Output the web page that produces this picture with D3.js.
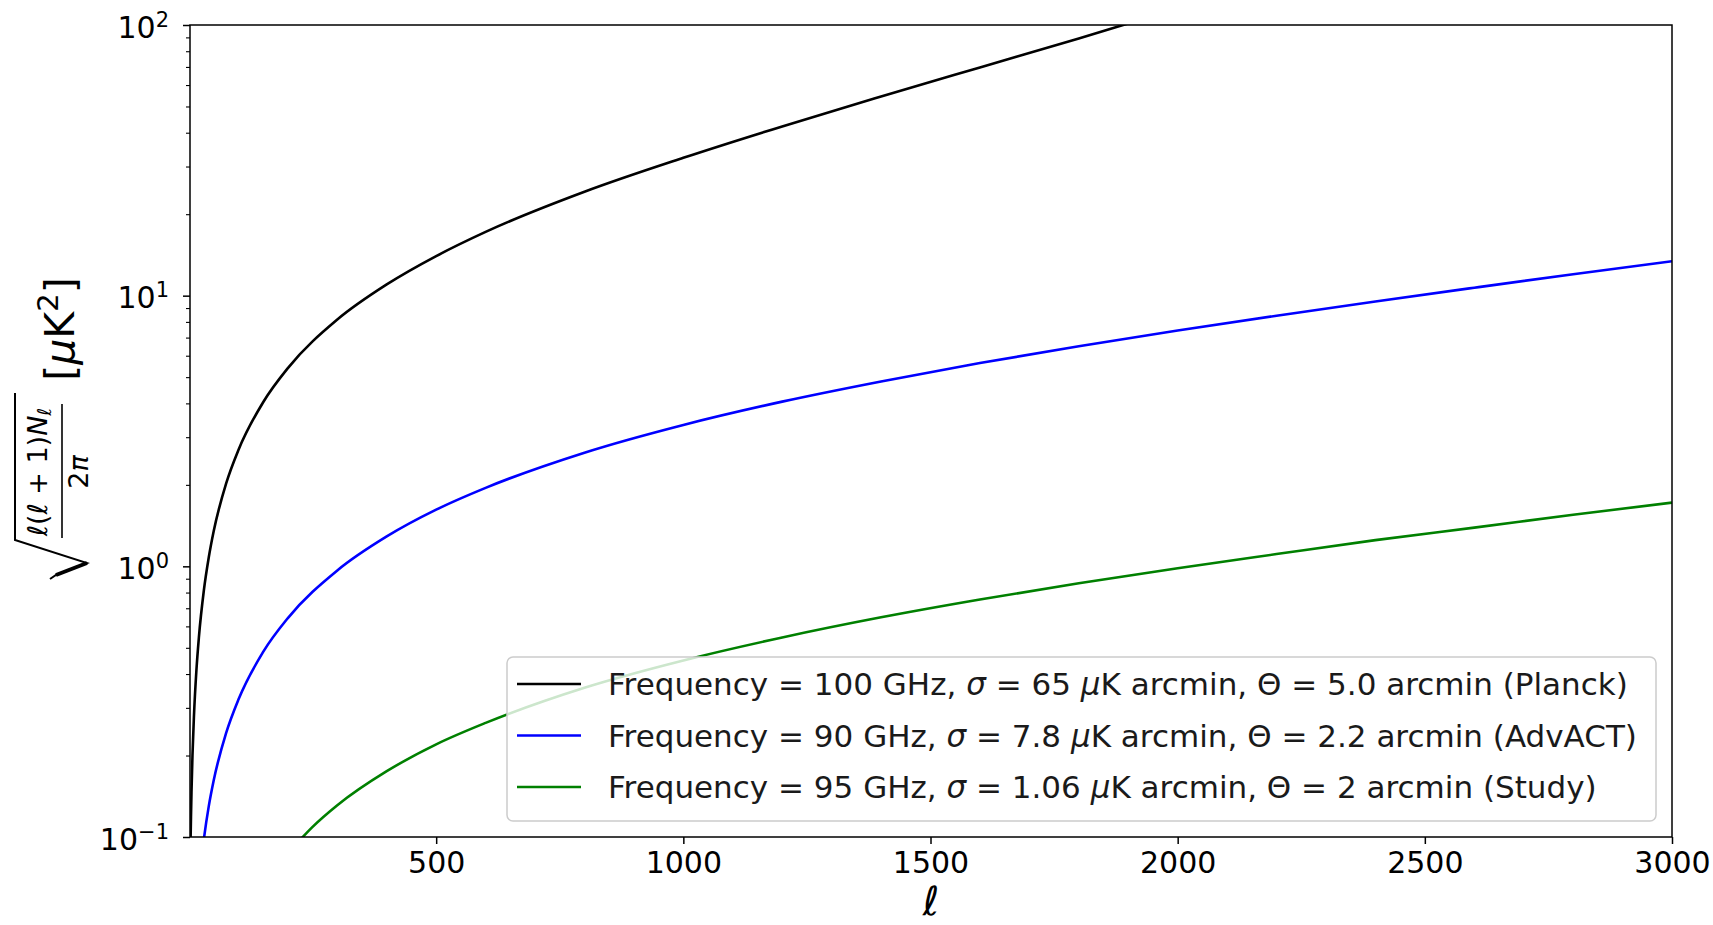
<!DOCTYPE html>
<html>
<head>
<meta charset="utf-8">
<script src="https://cdn.jsdelivr.net/npm/d3@7"></script>
<style>
  body { margin: 0; background: #fff; }
  svg { display: block; font-family: "DejaVu Sans", sans-serif; }
</style>
</head>
<body>
<div id="chart"></div>
<script>
// values (multipole ℓ, noise amplitude in μK)
const planckEll = [3, 4, 5, 7, 10, 15, 20, 30, 40, 50, 75, 100, 150, 200, 300, 400, 500, 600, 800, 1000, 1200, 1400, 1600, 1800, 1950]
const planckVal = [0.093, 0.119, 0.146, 0.200, 0.280, 0.414, 0.547, 0.814, 1.08, 1.35, 2.02, 2.69, 4.04, 5.40, 8.16, 11.0, 14.0, 17.2, 24.2, 32.3, 42.2, 54.4, 69.7, 89.2, 108]

const advactEll = [25, 30, 40, 50, 75, 100, 150, 200, 300, 400, 500, 600, 800, 1000, 1200, 1400, 1600, 1800, 2000, 2200, 2400, 2600, 2800, 3000]
const advactVal = [0.082, 0.098, 0.130, 0.162, 0.242, 0.322, 0.483, 0.644, 0.966, 1.29, 1.62, 1.95, 2.63, 3.33, 4.06, 4.82, 5.64, 6.50, 7.43, 8.43, 9.52, 10.7, 12.0, 13.4]

const studyEll = [200, 250, 300, 400, 500, 600, 800, 1000, 1200, 1400, 1600, 1800, 2000, 2200, 2400, 2600, 2800, 3000]
const studyVal = [0.087, 0.109, 0.131, 0.175, 0.220, 0.264, 0.356, 0.449, 0.546, 0.648, 0.754, 0.866, 0.984, 1.11, 1.25, 1.39, 1.55, 1.72]

// legend info
const freqs = [100, 90, 95]
const sigmas = ['65', '7.8', '1.06']
const thetas = ['5.0', '2.2', '2']
const names = ['Planck', 'AdvACT', 'Study']
const colors = ['#000000', '#0000ff', '#008000']

const xTicks = [500, 1000, 1500, 2000, 2500, 3000]
const yTicks = [0.1, 1, 10, 100]
const yTickExp = ['\u22121', '0', '1', '2']

const width = 1713
const height = 925
const margin = { top: 25, right: 41, bottom: 88, left: 190 }

const series = [
  { ell: planckEll, val: planckVal },
  { ell: advactEll, val: advactVal },
  { ell: studyEll, val: studyVal }
]

const svg = d3.select('#chart').append('svg')
  .attr('width', width)
  .attr('height', height)

const x = d3.scaleLinear().domain([2, 3000]).range([margin.left, width - margin.right])
const y = d3.scaleLog().domain([0.1, 100]).range([height - margin.bottom, margin.top])

// clip to the axes box
svg.append('clipPath').attr('id', 'plotclip')
  .append('rect')
  .attr('x', margin.left).attr('y', margin.top)
  .attr('width', width - margin.left - margin.right)
  .attr('height', height - margin.top - margin.bottom)

const line = d3.line()
  .x((d) => x(d[0]))
  .y((d) => y(d[1]))
  .curve(d3.curveMonotoneX)

svg.append('g')
  .attr('clip-path', 'url(#plotclip)')
  .selectAll('path')
  .data(series)
  .join('path')
  .attr('fill', 'none')
  .attr('stroke', (d, i) => colors[i])
  .attr('stroke-width', 2.6)
  .attr('d', (d) => line(d.ell.map((e, j) => [e, d.val[j]])))

// x axis
const xAxis = svg.append('g')
  .attr('transform', `translate(0,${height - margin.bottom})`)
  .call(d3.axisBottom(x).tickValues(xTicks).tickSize(7).tickSizeOuter(0).tickPadding(8).tickFormat(d3.format('d')))
xAxis.select('.domain').remove()
xAxis.selectAll('line').attr('stroke', '#000').attr('stroke-width', 1.5)
xAxis.selectAll('text')
  .attr('font-size', 30)
  .attr('font-family', 'DejaVu Sans')
  .attr('fill', '#000')
  .attr('dy', null)
  .attr('y', 36)

// y minor ticks
const yMinor = []
for (let p = -1; p < 2; p++) {
  for (let m = 2; m <= 9; m++) yMinor.push(m * Math.pow(10, p))
}
const yMinorAxis = svg.append('g')
  .attr('transform', `translate(${margin.left},0)`)
  .call(d3.axisLeft(y).tickValues(yMinor).tickSize(4).tickSizeOuter(0).tickFormat(''))
yMinorAxis.select('.domain').remove()
yMinorAxis.selectAll('line').attr('stroke', '#000').attr('stroke-width', 1.1)

// y major ticks
const yAxis = svg.append('g')
  .attr('transform', `translate(${margin.left},0)`)
  .call(d3.axisLeft(y).tickValues(yTicks).tickSize(7).tickSizeOuter(0).tickPadding(14))
yAxis.select('.domain').remove()
yAxis.selectAll('line').attr('stroke', '#000').attr('stroke-width', 1.5)
yAxis.selectAll('text')
  .attr('font-size', 30)
  .attr('font-family', 'DejaVu Sans')
  .attr('fill', '#000')
  .attr('dy', null)
  .attr('y', 12)
  .each(function (d, i) {
    const t = d3.select(this).text('')
    t.append('tspan').text('10')
    t.append('tspan').attr('font-size', 21).attr('dy', -11).text(yTickExp[i])
  })

// frame
svg.append('rect')
  .attr('x', margin.left).attr('y', margin.top)
  .attr('width', width - margin.left - margin.right)
  .attr('height', height - margin.top - margin.bottom)
  .attr('fill', 'none')
  .attr('stroke', '#000')
  .attr('stroke-width', 1.5)

// x label
svg.append('text')
  .attr('x', (margin.left + width - margin.right) / 2)
  .attr('y', 915)
  .attr('text-anchor', 'middle')
  .attr('font-size', 40)
  .attr('font-style', 'italic')
  .text('\u2113')

// y label: sqrt( l(l+1)N_l / 2pi ) [uK^2], built rotated
const yl = svg.append('g').attr('fill', '#000')

const unit = yl.append('text')
  .attr('transform', 'translate(74,329) rotate(-90)')
  .attr('text-anchor', 'middle')
  .attr('font-size', 41)
unit.append('tspan').text('[')
unit.append('tspan').attr('font-style', 'italic').text('\u03bc')
unit.append('tspan').text('K')
unit.append('tspan').attr('font-size', 29).attr('dy', -16).text('2')
unit.append('tspan').attr('dy', 16).text(']')

const num = yl.append('text')
  .attr('transform', 'translate(47,472) rotate(-90)')
  .attr('text-anchor', 'middle')
  .attr('font-size', 27)
num.append('tspan').attr('font-style', 'italic').text('\u2113')
num.append('tspan').text('(')
num.append('tspan').attr('font-style', 'italic').text('\u2113')
num.append('tspan').text(' + 1)')
num.append('tspan').attr('font-style', 'italic').text('N')
num.append('tspan').attr('font-style', 'italic').attr('font-size', 19).attr('dy', 4).text('\u2113')

yl.append('line')
  .attr('x1', 62).attr('x2', 62)
  .attr('y1', 404).attr('y2', 538)
  .attr('stroke', '#000').attr('stroke-width', 1.6)

const den = yl.append('text')
  .attr('transform', 'translate(88,472) rotate(-90)')
  .attr('text-anchor', 'middle')
  .attr('font-size', 27)
den.append('tspan').text('2')
den.append('tspan').attr('font-style', 'italic').text('\u03c0')

yl.append('path')
  .attr('d', 'M50,579 L56,575 L87,563 L15,540 L15,393')
  .attr('fill', 'none')
  .attr('stroke', '#000')
  .attr('stroke-width', 2)
  .attr('stroke-linejoin', 'miter')
yl.append('path')
  .attr('d', 'M56,575 L87,563')
  .attr('stroke', '#000')
  .attr('stroke-width', 4)

// legend
const lg = svg.append('g')
lg.append('rect')
  .attr('x', 507).attr('y', 657)
  .attr('width', 1149).attr('height', 164)
  .attr('rx', 6)
  .attr('fill', '#fff')
  .attr('fill-opacity', 0.8)
  .attr('stroke', '#cccccc')
  .attr('stroke-width', 1.5)

const rows = lg.selectAll('g.row')
  .data(names)
  .join('g')
  .attr('class', 'row')
  .attr('transform', (d, i) => `translate(0,${684 + i * 51.5})`)

rows.append('line')
  .attr('x1', 517).attr('x2', 581)
  .attr('stroke', (d, i) => colors[i])
  .attr('stroke-width', 2.6)

rows.append('text')
  .attr('x', 608)
  .attr('y', 11)
  .attr('font-size', 31)
  .attr('fill', '#1a1a1a')
  .each(function (d, i) {
    const t = d3.select(this)
    t.append('tspan').text(`Frequency = ${freqs[i]} GHz, `)
    t.append('tspan').attr('font-style', 'italic').text('\u03c3')
    t.append('tspan').text(` = ${sigmas[i]} `)
    t.append('tspan').attr('font-style', 'italic').text('\u03bc')
    t.append('tspan').text(`K arcmin, \u0398 = ${thetas[i]} arcmin (${d})`)
  })
</script>
</body>
</html>
